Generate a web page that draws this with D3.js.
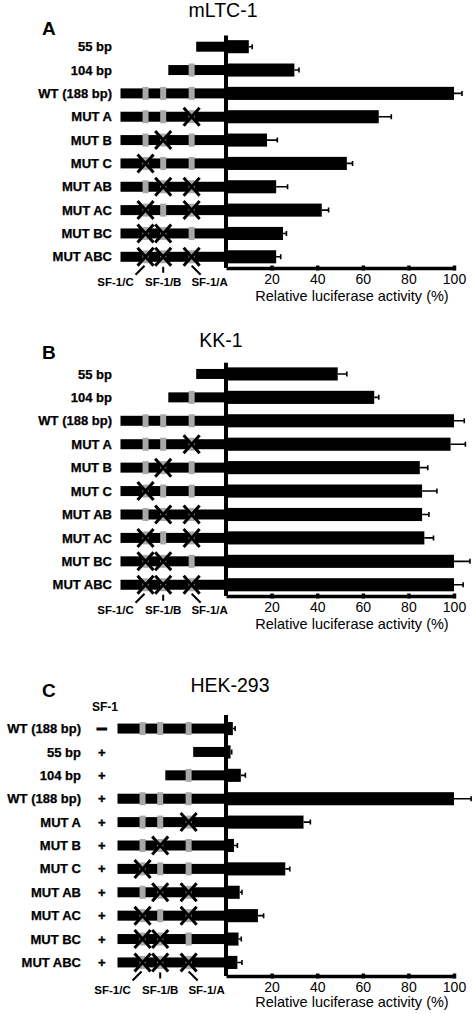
<!DOCTYPE html>
<html>
<head>
<meta charset="utf-8">
<script src="https://cdn.jsdelivr.net/npm/d3@7"></script>
<style>
body { margin: 0; background: #fff; }
svg { display: block; font-family: "Liberation Sans", Arial, sans-serif; }
</style>
</head>
<body>
<div id="chart"></div>
<script>
// constructs used in panels A and B
const constructsAB = ["55 bp", "104 bp", "WT (188 bp)", "MUT A", "MUT B", "MUT C", "MUT AB", "MUT AC", "MUT BC", "MUT ABC"]
const lengthsAB = [55, 104, 188, 188, 188, 188, 188, 188, 188, 188]
const mutatedAB = ["", "", "", "A", "B", "C", "AB", "AC", "BC", "ABC"]

// constructs used in panel C (with / without SF-1)
const constructsC = ["WT (188 bp)", "55 bp", "104 bp", "WT (188 bp)", "MUT A", "MUT B", "MUT C", "MUT AB", "MUT AC", "MUT BC", "MUT ABC"]
const lengthsC = [188, 55, 104, 188, 188, 188, 188, 188, 188, 188, 188]
const mutatedC = ["", "", "", "", "A", "B", "C", "AB", "AC", "BC", "ABC"]
const sf1C = ["–", "+", "+", "+", "+", "+", "+", "+", "+", "+", "+"]

// relative luciferase activity (%), mean and error
const mltcMean = [10, 30, 100, 67, 18, 53, 22, 42, 25, 22]
const mltcErr = [1.5, 2, 3.5, 5.5, 4.5, 2.5, 5, 3, 1.5, 2]
const kkMean = [49, 65, 100, 98.5, 85, 86, 86, 87, 100, 100]
const kkErr = [4, 2, 4.5, 6.5, 3.5, 6.5, 3, 4, 7, 4]
const hekMean = [3, 2, 6.5, 100, 34, 3.5, 26, 6, 14, 5.5, 5]
const hekErr = [1, 0.5, 2, 7.5, 3, 1.5, 2, 1, 2.5, 1.2, 2]

// SF-1 binding sites in the promoter (bp upstream)
const sites = ["C", "B", "A"]
const siteBp = [-144, -113, -63]
const siteLabels = ["SF-1/C", "SF-1/B", "SF-1/A"]

const xTicks = [20, 40, 60, 80, 100]
const xTitle = "Relative luciferase activity (%)"

let svg = d3.select("#chart")
            .append("svg")
                .attr("width", 474)
                .attr("height", 1014)

let x = d3.scaleLinear().domain([0, 100]).range([226, 454])

let panels = [
    { letter: "A", title: "mLTC-1", titleX: 223, titleY: 17, letterY: 35,
      labels: constructsAB, lengths: lengthsAB, mutated: mutatedAB, mean: mltcMean, err: mltcErr,
      top: 35.5, bottom: 268, padOuter: 0.2, labelX: 112, shift: 0, titleGap: 33 },
    { letter: "B", title: "KK-1", titleX: 221, titleY: 347, letterY: 359,
      labels: constructsAB, lengths: lengthsAB, mutated: mutatedAB, mean: kkMean, err: kkErr,
      top: 362.7, bottom: 596, padOuter: 0.2, labelX: 112, shift: 0, titleGap: 33 },
    { letter: "C", title: "HEK-293", titleX: 230, titleY: 692, letterY: 697,
      labels: constructsC, lengths: lengthsC, mutated: mutatedC, mean: hekMean, err: hekErr, signs: sf1C,
      top: 715, bottom: 976, padOuter: 0.3, labelX: 81, shift: -3, titleGap: 31 }
]

panels.forEach(drawPanel)

function drawPanel(p) {
    let g = svg.append("g")
    let idx = d3.range(p.labels.length)
    let y = d3.scaleBand().domain(idx).range([p.top, p.bottom])
                .paddingInner(0.44).paddingOuter(p.padOuter)
    let mid = i => y(i) + y.bandwidth() / 2
    let bp = d3.scaleLinear().domain([-188, 0]).range([120.5 + p.shift, 227.5 + p.shift])

    // panel letter and cell line title
    g.append("text")
        .attr("x", 42).attr("y", p.letterY)
        .attr("font-size", 19).attr("font-weight", "bold")
        .text(p.letter)
    g.append("text")
        .attr("x", p.titleX).attr("y", p.titleY)
        .attr("text-anchor", "middle").attr("font-size", 19.5)
        .text(p.title)

    // row labels
    g.selectAll(".rowlabel").data(idx).enter().append("text")
        .attr("class", "rowlabel")
        .attr("x", p.labelX).attr("y", i => mid(i) + 4.6)
        .attr("text-anchor", "end").attr("font-size", 13).attr("font-weight", "bold")
        .attr("stroke", "#000").attr("stroke-width", 0.25)
        .text(i => p.labels[i])

    if (p.signs) {
        g.append("text")
            .attr("x", 105).attr("y", 711)
            .attr("text-anchor", "middle").attr("font-size", 12).attr("font-weight", "bold")
            .text("SF-1")
        g.selectAll(".sign").data(idx).enter().append("text")
            .attr("class", "sign")
            .attr("x", 101.7).attr("y", i => mid(i) + (p.signs[i] == "+" ? 4.6 : 5.5))
            .attr("text-anchor", "middle")
            .attr("font-size", i => p.signs[i] == "+" ? 13 : 19)
            .attr("font-weight", "bold")
            .attr("stroke", "#000").attr("stroke-width", i => p.signs[i] == "+" ? 0.4 : 1.2)
            .text(i => p.signs[i])
    }

    // promoter line
    g.selectAll(".promoter").data(idx).enter().append("rect")
        .attr("class", "promoter")
        .attr("x", i => bp(-p.lengths[i]))
        .attr("width", i => x(0) - bp(-p.lengths[i]))
        .attr("y", i => mid(i) - 5).attr("height", 10)
        .attr("fill", "#000")

    // SF-1 sites (grey boxes) and mutations (crosses)
    idx.forEach(i => {
        sites.forEach((s, k) => {
            if (siteBp[k] < -p.lengths[i]) return
            let cx = bp(siteBp[k]), cy = mid(i)
            g.append("rect")
                .attr("x", cx - 3).attr("y", cy - 6.5)
                .attr("width", 6).attr("height", 13)
                .attr("fill", "#a8a8a8")
            if (p.mutated[i].includes(s)) {
                g.append("path")
                    .attr("d", `M${cx - 8},${cy - 9}L${cx + 8},${cy + 9}M${cx - 8},${cy + 9}L${cx + 8},${cy - 9}`)
                    .attr("stroke", "#000").attr("stroke-width", 3).attr("fill", "none")
            }
        })
    })

    // site labels under the last row
    let last = mid(idx.length - 1)
    let leader = [
        (sx) => `M${sx - 1},${last + 9}L${sx - 10},${last + 18}`,
        (sx) => `M${sx},${last + 10}L${sx},${last + 16}`,
        (sx) => `M${sx},${last + 9}L${sx + 9},${last + 18}`
    ]
    let labelOffset = [-30, 0, 18]
    siteLabels.forEach((lab, k) => {
        let sx = bp(siteBp[k])
        g.append("path").attr("d", leader[k](sx))
            .attr("stroke", "#000").attr("stroke-width", 2).attr("fill", "none")
        g.append("text")
            .attr("x", sx + labelOffset[k]).attr("y", p.bottom + 18)
            .attr("text-anchor", "middle").attr("font-size", 11.5).attr("font-weight", "bold")
            .text(lab)
    })

    // value bars
    g.selectAll(".bar").data(idx).enter().append("rect")
        .attr("class", "bar")
        .attr("x", x(0)).attr("width", i => x(p.mean[i]) - x(0))
        .attr("y", i => y(i)).attr("height", y.bandwidth())
        .attr("fill", "#000")

    // error bars
    g.selectAll(".err").data(idx).enter().append("path")
        .attr("class", "err")
        .attr("d", i => {
            let x1 = x(p.mean[i]), x2 = x(p.mean[i] + p.err[i]), cy = mid(i)
            return `M${x1},${cy}L${x2},${cy}M${x2},${cy - 2.5}L${x2},${cy + 2.5}`
        })
        .attr("stroke", "#000").attr("stroke-width", 1.6).attr("fill", "none")

    // axes
    g.append("line")
        .attr("x1", x(0)).attr("x2", x(0))
        .attr("y1", p.top).attr("y2", p.bottom)
        .attr("stroke", "#000").attr("stroke-width", 4)

    let ax = g.append("g")
        .attr("transform", `translate(0,${p.bottom})`)
        .call(d3.axisBottom(x).tickValues(xTicks).tickSizeInner(3).tickSizeOuter(0).tickPadding(3.5))
    ax.select(".domain").attr("stroke-width", 3.5)
    ax.selectAll(".tick line").attr("y1", -2.5).attr("y2", 2.5).attr("stroke-width", 3.5)
    ax.selectAll(".tick text")
        .attr("font-size", 14)
        .attr("font-family", "\"Liberation Sans\", Arial, sans-serif")
        .attr("fill", "#000")

    g.append("text")
        .attr("x", 352).attr("y", p.bottom + p.titleGap)
        .attr("text-anchor", "middle").attr("font-size", 14.5)
        .text(xTitle)
}
</script>
</body>
</html>
